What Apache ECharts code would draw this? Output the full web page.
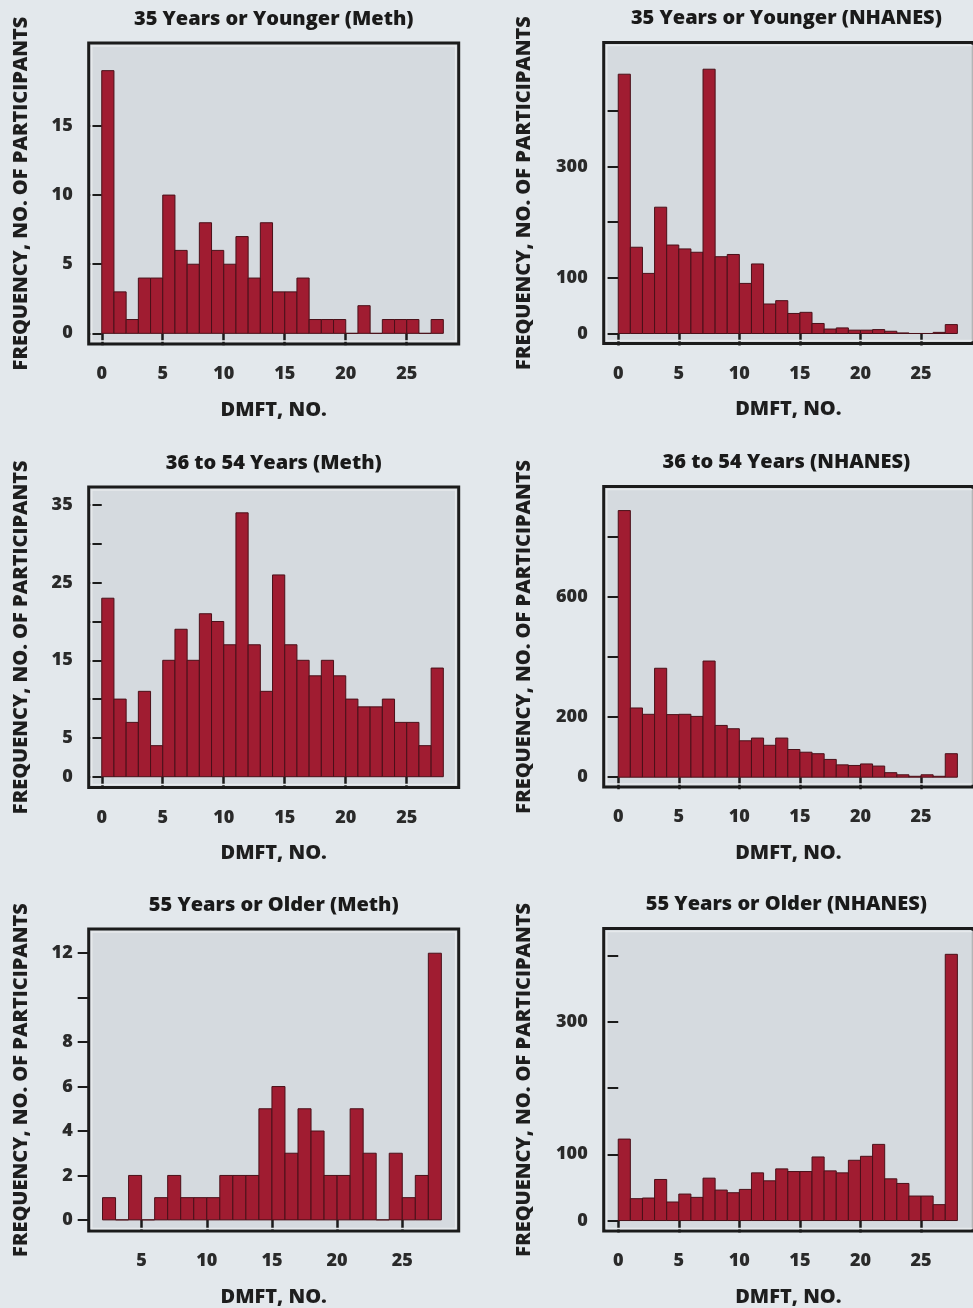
<!DOCTYPE html>
<html>
<head>
<meta charset="utf-8">
<script src="https://cdn.jsdelivr.net/npm/echarts@6/dist/echarts.min.js"></script>
<style>
html,body{margin:0;padding:0;background:#e3e8ec;}
#chart{width:973px;height:1308px;}
</style>
</head>
<body>
<div id="chart"></div>
<script>
// ---- data ----
const dmftBins = [0,1,2,3,4,5,6,7,8,9,10,11,12,13,14,15,16,17,18,19,20,21,22,23,24,25,26,27];
const dmftBinsOlderMeth = [2,3,4,5,6,7,8,9,10,11,12,13,14,15,16,17,18,19,20,21,22,23,24,25,26,27];

const meth35 = [19,3,1,4,4,10,6,5,8,6,5,7,4,8,3,3,4,1,1,1,0,2,0,1,1,1,0,1];
const nhanes35 = [466,155,108,227,159,152,146,475,138,142,90,125,53,59,36,38,18,8,10,6,6,7,4,1,0,0,2,16];
const meth3654 = [23,10,7,11,4,15,19,15,21,20,17,34,17,11,26,17,15,13,15,13,10,9,9,10,7,7,4,14];
const nhanes3654 = [886,230,209,362,208,209,202,386,172,161,121,130,106,130,92,83,78,59,41,39,44,37,15,8,3,8,3,78];
const meth55 = [1,0,2,0,1,2,1,1,1,2,2,2,5,6,3,5,4,2,2,5,3,0,3,1,2,12];
const nhanes55 = [123,33,34,62,28,40,35,64,46,42,47,72,60,78,74,74,96,75,72,91,97,115,63,56,37,37,24,402];

const titles = [
  '35 Years or Younger (Meth)', '35 Years or Younger (NHANES)',
  '36 to 54 Years (Meth)', '36 to 54 Years (NHANES)',
  '55 Years or Older (Meth)', '55 Years or Older (NHANES)'
];
const xTicksFull = [0,5,10,15,20,25];
const xTicksOlder = [5,10,15,20,25];
const yTicksMeth35 = [0,5,10,15];            const yLabelsMeth35 = [0,5,10,15];
const yTicksNhanes35 = [0,100,200,300,400];  const yLabelsNhanes35 = [0,100,300];
const yTicksMeth3654 = [0,5,10,15,20,25,30,35]; const yLabelsMeth3654 = [0,5,15,25,35];
const yTicksNhanes3654 = [0,200,400,600,800]; const yLabelsNhanes3654 = [0,200,600];
const yTicksMeth55 = [0,2,4,6,8,10,12];      const yLabelsMeth55 = [0,2,4,6,8,12];
const yTicksNhanes55 = [0,100,200,300,400];  const yLabelsNhanes55 = [0,100,300];
const xName = 'DMFT, NO.';
const yName = 'FREQUENCY, NO. OF PARTICIPANTS';

// ---- panel assembly ----
const panelData = [
  {bins: dmftBins, vals: meth35, xt: xTicksFull, yt: yTicksMeth35, yl: yLabelsMeth35},
  {bins: dmftBins, vals: nhanes35, xt: xTicksFull, yt: yTicksNhanes35, yl: yLabelsNhanes35},
  {bins: dmftBins, vals: meth3654, xt: xTicksFull, yt: yTicksMeth3654, yl: yLabelsMeth3654},
  {bins: dmftBins, vals: nhanes3654, xt: xTicksFull, yt: yTicksNhanes3654, yl: yLabelsNhanes3654},
  {bins: dmftBinsOlderMeth, vals: meth55, xt: xTicksOlder, yt: yTicksMeth55, yl: yLabelsMeth55},
  {bins: dmftBins, vals: nhanes55, xt: xTicksFull, yt: yTicksNhanes55, yl: yLabelsNhanes55}
];
// layout (pixels / axis extents)
const layout = [
  {l:88.7, t:43,   r:458.7, b:344,    x0:-1.07, x1:29.26, y0:-0.77, y1:21.0, ng:57},
  {l:603.7,t:42.5, r:975,   b:343.5,  x0:-1.2,  x1:29.29, y0:-18,   y1:523,  ng:69},
  {l:88.7, t:487,  r:458.7, b:787.5,  x0:-1.07, x1:29.26, y0:-1.39, y1:37.33,ng:57},
  {l:603.7,t:486.5,r:975,   b:787,    x0:-1.2,  x1:29.29, y0:-32.6, y1:966,  ng:69},
  {l:88.7, t:929,  r:458.7, b:1231.5, x0:0.94,  x1:29.33, y0:-0.5,  y1:13.09,ng:57},
  {l:603.7,t:928.5,r:975,   b:1231.5, x0:-1.2,  x1:29.29, y0:-15.8, y1:441,  ng:69}
];

const FONT = 'Open Sans';
const W = 800;
const grids = [], xAxes = [], yAxes = [], series = [], graphics = [];
panelData.forEach((p, i) => {
  const L = layout[i];
  grids.push({
    left: L.l, top: L.t, width: L.r - L.l, height: L.b - L.t,
    show: true, backgroundColor: '#d5dadf', borderColor: '#1b1b1b', borderWidth: 3
  });
  xAxes.push({
    type: 'value', gridIndex: i, min: L.x0, max: L.x1,
    name: xName, nameLocation: 'middle', nameGap: 56,
    nameTextStyle: {fontFamily: FONT, fontWeight: W, fontSize: 20, color: '#1e1e1e'},
    axisLine: {show: false}, splitLine: {show: false},
    axisTick: {show: true, length: 12, customValues: p.xt, lineStyle: {color: '#1b1b1b', width: 2.5}},
    axisLabel: {customValues: p.xt, margin: 21, fontFamily: FONT, fontWeight: W, fontSize: 18, color: '#2a2a2a'}
  });
  yAxes.push({
    type: 'value', gridIndex: i, min: L.y0, max: L.y1,
    name: yName, nameLocation: 'middle', nameRotate: 90, nameGap: L.ng,
    nameTextStyle: {fontFamily: FONT, fontWeight: W, fontSize: 20, color: '#1e1e1e'},
    axisLine: {show: false}, splitLine: {show: false},
    axisTick: {show: true, length: 11, customValues: p.yt, lineStyle: {color: '#1b1b1b', width: 2}},
    axisLabel: {customValues: p.yl, margin: 16, fontFamily: FONT, fontWeight: W, fontSize: 18, color: '#2a2a2a'}
  });
  series.push({
    type: 'custom', xAxisIndex: i, yAxisIndex: i, z: 5,
    data: p.bins.map((b, k) => [b, p.vals[k]]),
    renderItem: function (params, api) {
      const x = api.value(0), v = api.value(1);
      const p0 = api.coord([x, 0]);
      const p1 = api.coord([x + 1, v]);
      return {
        type: 'rect',
        shape: {x: p0[0], y: p1[1], width: p1[0] - p0[0], height: p0[1] - p1[1]},
        style: {fill: '#a01c31', stroke: '#4a1019', lineWidth: 1}
      };
    }
  });
  graphics.push({
    type: 'text', x: (L.l + L.r) / 2 - (i % 2 ? 3 : 0), y: L.t - 24,
    style: {text: titles[i], fontFamily: FONT, fontWeight: W, fontSize: 20,
      fill: '#1a1a1a', align: 'center', verticalAlign: 'middle'}
  });
  // light inner frame just inside the dark border
  graphics.push({
    type: 'rect', z: 1, silent: true,
    shape: {x: L.l + 3, y: L.t + 3, width: L.r - L.l - 6, height: L.b - L.t - 6},
    style: {fill: null, stroke: '#e6e9ec', lineWidth: 1.5}
  });
});

const chart = echarts.init(document.getElementById('chart'), null, {renderer: 'canvas'});
chart.setOption({
  backgroundColor: '#e3e8ec',
  animation: false,
  grid: grids, xAxis: xAxes, yAxis: yAxes, series: series, graphic: graphics
});
</script>
</body>
</html>
